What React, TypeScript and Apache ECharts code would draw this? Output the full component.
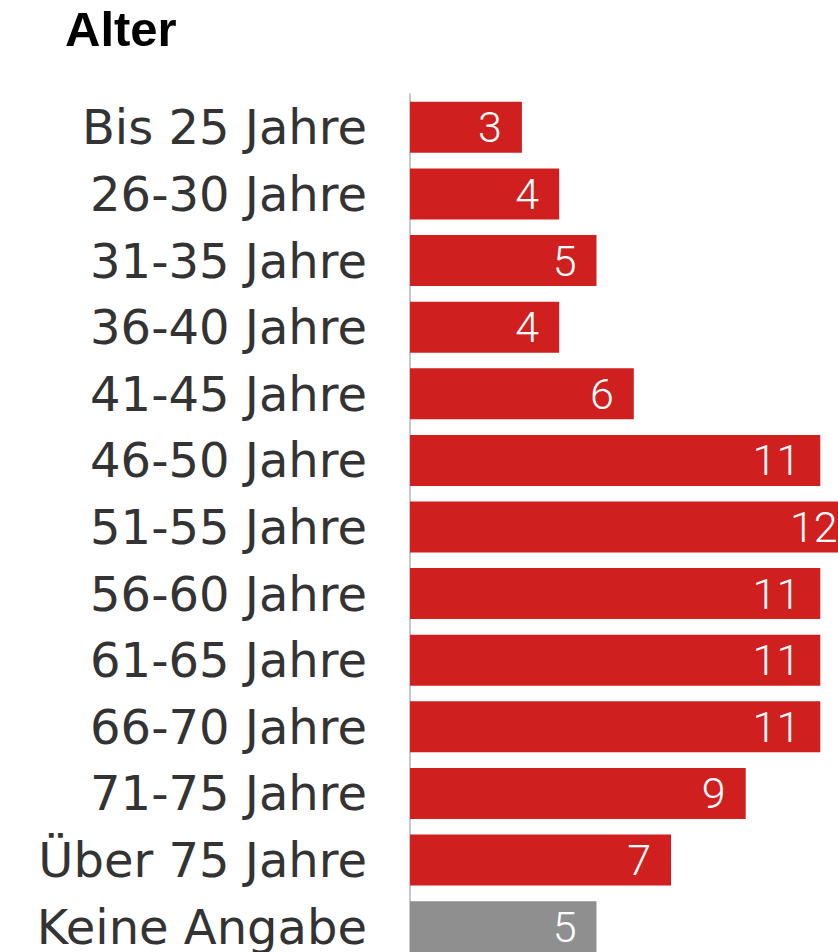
import React, { useEffect, useRef } from "react";
import * as echarts from "echarts";

const title = "Alter";
const categories = [
  "Bis 25 Jahre",
  "26-30 Jahre",
  "31-35 Jahre",
  "36-40 Jahre",
  "41-45 Jahre",
  "46-50 Jahre",
  "51-55 Jahre",
  "56-60 Jahre",
  "61-65 Jahre",
  "66-70 Jahre",
  "71-75 Jahre",
  "Über 75 Jahre",
  "Keine Angabe",
];
const values = [3, 4, 5, 4, 6, 11, 12, 11, 11, 11, 9, 7, 5];
const greyCategories = ["Keine Angabe"];

const RED = "#D01F1F";
const GREY = "#8F8F8F";

export default function App() {
  const ref = useRef<HTMLDivElement>(null);

  useEffect(() => {
    if (!ref.current) return;
    const chart = echarts.init(ref.current, undefined, { renderer: "svg" });
    const data = values.map((v, i) => ({
      value: v,
      itemStyle: { color: greyCategories.includes(categories[i]) ? GREY : RED },
    }));
    chart.setOption({
      animation: false,
      title: {
        text: title,
        left: 65,
        top: 4,
        padding: 0,
        textStyle: {
          fontFamily: "Liberation Sans, Arial, sans-serif",
          fontWeight: "bold",
          fontSize: 49,
          color: "#000",
        },
      },
      grid: { left: 410, top: 94, bottom: 0, right: 22.4, containLabel: false },
      xAxis: {
        type: "value",
        min: 0,
        max: 12,
        show: false,
      },
      yAxis: {
        type: "category",
        inverse: true,
        data: categories,
        axisTick: { show: false },
        axisLine: { show: true, lineStyle: { color: "#c8c8c8", width: 2 } },
        axisLabel: {
          margin: 43,
          fontFamily: "DejaVu Sans, sans-serif",
          fontSize: 48,
          color: "#333",
        },
        splitLine: { show: false },
      },
      series: [
        {
          type: "bar",
          data,
          barWidth: 51,
          label: {
            show: true,
            position: "insideRight",
            distance: 20,
            color: "#fff",
            fontFamily: "Roboto, sans-serif",
            fontWeight: 300,
            fontSize: 43,
          },
        },
      ],
    });
    return () => chart.dispose();
  }, []);

  return (
    <div
      style={{
        position: "fixed",
        left: 0,
        top: 0,
        width: 838,
        height: 952,
        overflow: "hidden",
        background: "#fff",
      }}
    >
      <div ref={ref} style={{ width: 880, height: 960 }} />
    </div>
  );
}
